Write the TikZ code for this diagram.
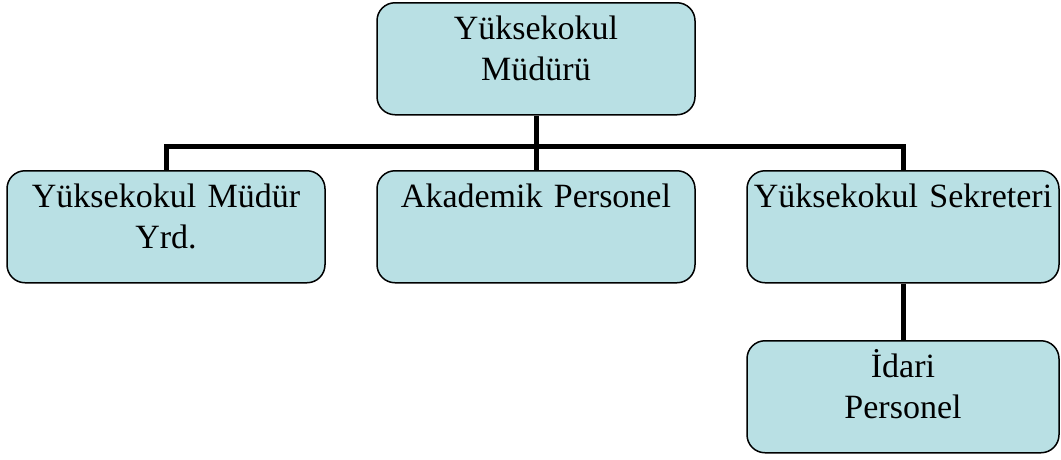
\documentclass[tikz,border=0pt]{standalone}
\usepackage{fontspec}
\setmainfont{Liberation Serif}
\usetikzlibrary{positioning}
\definecolor{kutuRenk}{RGB}{185,224,228}

\begin{document}
\begin{tikzpicture}[x=1pt,y=1pt,line join=round,
  kutu/.style={draw=black,line width=1.5pt,fill=kutuRenk,rounded corners=18pt,
    inner sep=0pt,text width=#1,align=center,text height=37pt,text depth=75pt,
    anchor=north,font=\fontsize{34}{40.5}\selectfont},
  hat/.style={line width=5pt,line cap=butt,line join=miter}]
\useasboundingbox (0,0) rectangle (1061,-459);
%\draw[red] (0,0) rectangle (1061,-459);
\node[kutu=318pt] (mudur) at (536,-2) {Yüksekokul\\Müdürü};
\node[kutu=318pt] (yrd) at (166,-170) {Yüksekokul Müdür\\Yrd.};
\node[kutu=318pt] (akad) at (536,-170) {Akademik Personel};
\node[kutu=312pt] (sekr) at (903,-170) {Yüksekokul Sekreteri};
\node[kutu=312pt] (idari) at (903,-340) {İdari\\Personel};
% baglanti cizgileri
\coordinate (kol) at (536,-146);
\draw[hat] (mudur.south) -- (kol);
\draw[hat] (yrd.north) |- (kol) -| (sekr.north);
\draw[hat] (kol) -- (akad.north);
\draw[hat] (sekr.south) -- (idari.north);
\end{tikzpicture}
\end{document}
